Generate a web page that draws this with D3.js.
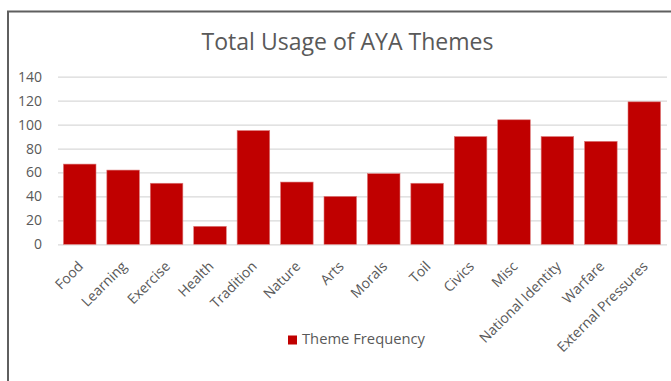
<!DOCTYPE html>
<html>
<head>
<meta charset="utf-8">
<script src="https://cdn.jsdelivr.net/npm/d3@7"></script>
<style>
  html, body { margin: 0; padding: 0; background: #ffffff; }
  svg { display: block; font-family: "Open Sans", "Noto Sans", sans-serif; }
</style>
</head>
<body>
<svg id="chart" width="671" height="381"></svg>
<script>
// Theme usage counts
const categories = ["Food", "Learning", "Exercise", "Health", "Tradition", "Nature", "Arts",
  "Morals", "Toil", "Civics", "Misc", "National Identity", "Warfare", "External Pressures"];
const frequency = [67, 62, 51, 15, 95, 52, 40, 59, 51, 90, 104, 90, 86, 119];
const yTicks = [0, 20, 40, 60, 80, 100, 120, 140];
const titleText = "Total Usage of AYA Themes";
const seriesName = "Theme Frequency";

const svg = d3.select("#chart");
const textColor = "#595959";
const barColor = "#C00000";

// chart frame (runs past the right and bottom edges)
svg.append("rect")
  .attr("x", 8).attr("y", 11.5)
  .attr("width", 700).attr("height", 400)
  .attr("fill", "#ffffff")
  .attr("stroke", "#5f5f5f")
  .attr("stroke-width", 2);

const plot = { left: 58, right: 666, top: 76.7, bottom: 244.3 };

const x = d3.scaleBand()
  .domain(categories)
  .range([plot.left, plot.right])
  .paddingInner(0.25)
  .paddingOuter(0.125);

const y = d3.scaleLinear()
  .domain([0, 140])
  .range([plot.bottom, plot.top]);

// fit a text element to a target width
function fitWidth(sel, target) {
  const node = sel.node();
  const fs = parseFloat(sel.attr("font-size"));
  const w = node.getComputedTextLength();
  if (w > 0) sel.attr("font-size", (fs * target / w).toFixed(2));
}

// title
const title = svg.append("text")
  .attr("x", 347.5).attr("y", 49.5)
  .attr("text-anchor", "middle")
  .attr("font-size", 22)
  .attr("fill", textColor)
  .text(titleText);
fitWidth(title, 292);

// gridlines and value labels
const yAxis = d3.axisLeft(y)
  .tickValues(yTicks)
  .tickSize(-(plot.right - plot.left + 1))
  .tickPadding(16)
  .tickFormat(d3.format("d"));

const gy = svg.append("g")
  .attr("transform", `translate(${plot.left},0)`)
  .call(yAxis);
gy.select(".domain").remove();
gy.selectAll(".tick line")
  .attr("stroke", "#d9d9d9")
  .attr("stroke-width", 1.3);
gy.selectAll(".tick text")
  .attr("fill", textColor)
  .attr("font-size", 14)
  .attr("font-family", "'Open Sans', sans-serif");

// bars
svg.append("g")
  .selectAll("rect")
  .data(categories.map((c, i) => ({ c, v: frequency[i] })))
  .join("rect")
  .attr("x", d => x(d.c))
  .attr("y", d => y(d.v))
  .attr("width", x.bandwidth())
  .attr("height", d => y(0) - y(d.v))
  .attr("fill", barColor)
  .attr("stroke", "#dc7a7a")
  .attr("stroke-width", 0.6);

// rotated category labels
const xAxis = d3.axisBottom(x).tickSize(0).tickPadding(0);
const gx = svg.append("g")
  .attr("transform", `translate(0,${plot.bottom})`)
  .call(xAxis);
gx.select(".domain").remove();
gx.selectAll(".tick text")
  .attr("fill", textColor)
  .attr("font-size", 14)
  .attr("font-family", "'Open Sans', sans-serif")
  .attr("text-anchor", "end")
  .attr("dy", "0.35em")
  .attr("y", 0)
  .attr("transform", "translate(1,19.5) rotate(-45)");

// legend
const legend = svg.append("g");
legend.append("rect")
  .attr("x", 288).attr("y", 335.5)
  .attr("width", 9).attr("height", 9)
  .attr("fill", barColor);
const legText = legend.append("text")
  .attr("x", 302).attr("y", 344)
  .attr("font-size", 14)
  .attr("fill", textColor)
  .text(seriesName);
fitWidth(legText, 123);
</script>
</body>
</html>
